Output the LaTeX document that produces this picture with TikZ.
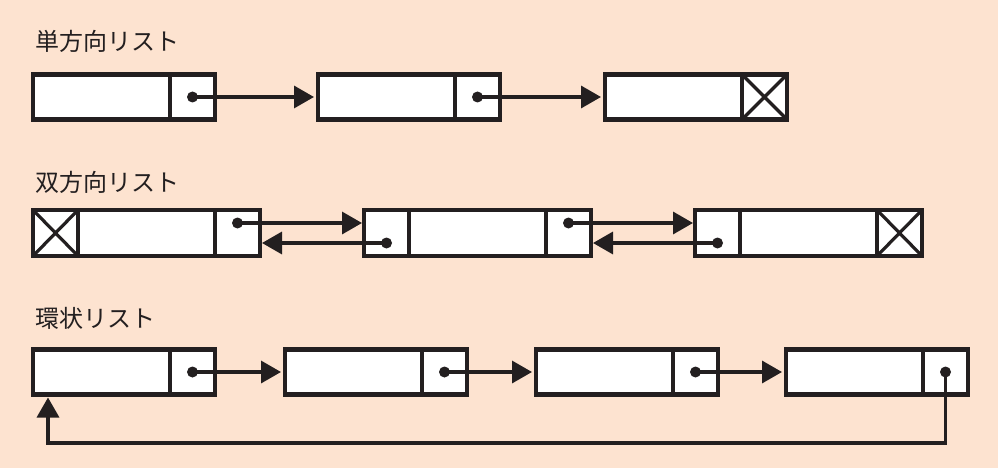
\documentclass[tikz,border=0pt]{standalone}
\usepackage{fontspec}
\newfontfamily\jp{Noto Sans CJK JP}
\usetikzlibrary{arrows.meta}
\definecolor{bg}{HTML}{FDE3D0}
\definecolor{ink}{HTML}{231F20}
\tikzset{
 cell/.style={draw=ink, line width=4.4pt, fill=white, inner sep=0pt, outer sep=0pt, anchor=north west, minimum height=45pt},
 data/.style={cell, minimum width=137pt},
 ptr/.style={cell, minimum width=45pt},
 nil/.style={ptr, path picture={\draw[ink, line width=3.2pt] (path picture bounding box.north west) -- (path picture bounding box.south east) (path picture bounding box.south west) -- (path picture bounding box.north east);}},
 dot/.style={circle, fill=ink, inner sep=0pt, minimum size=11pt},
 link/.style={draw=ink, line width=3.4pt, -{Triangle[length=20pt,width=22pt]}},
 title/.style={font=\jp\fontsize{24}{26}\selectfont, text=ink, anchor=base west, inner sep=0pt},
}
\begin{document}
\begin{tikzpicture}[x=1pt,y=-1pt]
\fill[bg] (0,0) rectangle (998,468);
\useasboundingbox (0,0) rectangle (998,468);
% titles
\node[title] (t1) at (35,51) {単方向リスト};
\node[title] (t2) at (35,191) {双方向リスト};
\node[title] (t3) at (35,327) {環状リスト};
% row 1
\node[data] (a1d) at (33,74.5) {};
\node[ptr]  (a1p) at (170,74.5) {};
\node[data] (b1d) at (318,74.5) {};
\node[ptr]  (b1p) at (455,74.5) {};
\node[data] (c1d) at (605,74.5) {};
\node[nil]  (c1p) at (742,74.5) {};
\node[dot] (da1) at (a1p.center) {};
\node[dot] (db1) at (b1p.center) {};
\draw[link, shorten >=4pt] (da1.center) -- (b1d.west);
\draw[link, shorten >=4pt] (db1.center) -- (c1d.west);
% row 2
\node[nil,  minimum height=46pt] (a2x) at (33,210) {};
\node[data, minimum height=46pt] (a2d) at (78,210) {};
\node[ptr,  minimum height=46pt] (a2n) at (215,210) {};
\node[ptr,  minimum height=46pt] (b2p) at (364,210) {};
\node[data, minimum height=46pt] (b2d) at (409,210) {};
\node[ptr,  minimum height=46pt] (b2n) at (546,210) {};
\node[ptr,  minimum height=46pt] (c2p) at (695,210) {};
\node[data, minimum height=46pt] (c2d) at (740,210) {};
\node[nil,  minimum height=46pt] (c2x) at (877,210) {};
\node[dot] (da2) at ([yshift=10pt]a2n.center) {};
\node[dot] (db2p) at ([yshift=-10pt]b2p.center) {};
\node[dot] (db2n) at ([yshift=10pt]b2n.center) {};
\node[dot] (dc2p) at ([yshift=-10pt]c2p.center) {};
\draw[link, shorten >=2pt] (da2.center) -- (b2p.west |- da2.center);
\draw[link, shorten >=2pt] (db2p.center) -- (a2n.east |- db2p.center);
\draw[link, shorten >=2pt] (db2n.center) -- (c2p.west |- db2n.center);
\draw[link, shorten >=2pt] (dc2p.center) -- (b2n.east |- dc2p.center);
% row 3
\node[data] (a3d) at (33,349.5) {};
\node[ptr]  (a3p) at (170,349.5) {};
\node[data] (b3d) at (285,349.5) {};
\node[ptr]  (b3p) at (422,349.5) {};
\node[data] (c3d) at (536,349.5) {};
\node[ptr]  (c3p) at (673,349.5) {};
\node[data] (e3d) at (786,349.5) {};
\node[ptr]  (e3p) at (923,349.5) {};
\node[dot] (da3) at (a3p.center) {};
\node[dot] (db3) at (b3p.center) {};
\node[dot] (dc3) at (c3p.center) {};
\node[dot] (de3) at (e3p.center) {};
\draw[link, shorten >=4pt] (da3.center) -- (b3d.west);
\draw[link, shorten >=4pt] (db3.center) -- (c3d.west);
\draw[link, shorten >=4pt] (dc3.center) -- (e3d.west);
\coordinate (loop) at (48,443);
\draw[link, shorten >=3pt] (de3.center) |- (loop) -- (loop |- a3d.south);
\end{tikzpicture}
\end{document}
